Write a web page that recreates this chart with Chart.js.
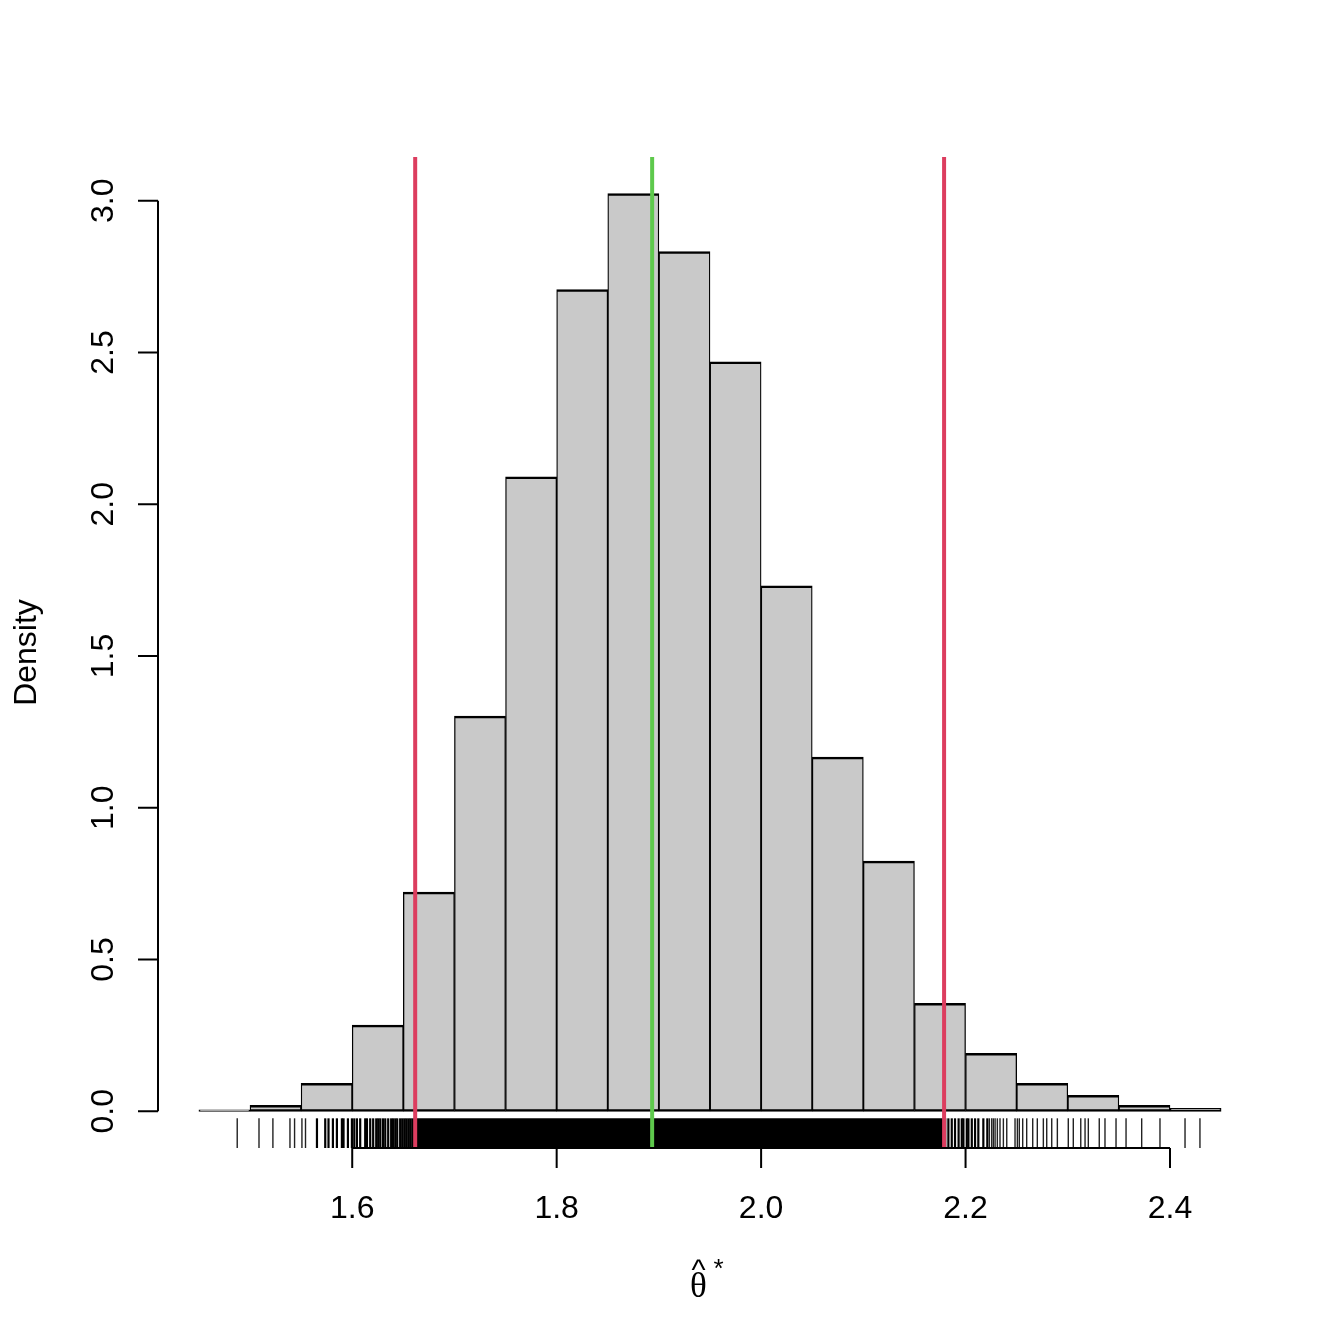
<!DOCTYPE html>
<html>
<head>
<meta charset="utf-8">
<script src="https://cdn.jsdelivr.net/npm/chart.js@4/dist/chart.umd.min.js"></script>
<style>
  html, body { margin: 0; padding: 0; background: #ffffff; }
  #wrap { width: 1344px; height: 1344px; }
</style>
</head>
<body>
<div id="wrap"><canvas id="c" width="1344" height="1344"></canvas></div>
<script>
// ---- data ----
const binEdges = [1.45, 1.50, 1.55, 1.60, 1.65, 1.70, 1.75, 1.80, 1.85, 1.90, 1.95,
                  2.00, 2.05, 2.10, 2.15, 2.20, 2.25, 2.30, 2.35, 2.40, 2.45];
const density = [0.005, 0.020, 0.092, 0.284, 0.722, 1.302, 2.090, 2.707, 3.023, 2.832,
                 2.469, 1.731, 1.167, 0.824, 0.356, 0.191, 0.092, 0.053, 0.020, 0.010];
const ciLower = 1.6616;
const ciUpper = 2.1790;
const estimate = 1.8934;
const rugSparse = [1.4875, 1.5088, 1.5224, 1.5391, 1.5436, 1.5508, 1.5543,
                   2.2233, 2.2256, 2.2272, 2.2289, 2.2311, 2.2337, 2.2370, 2.2403,
                   2.2484, 2.2507, 2.2526, 2.2559, 2.2598, 2.2657, 2.2702, 2.2761,
                   2.2794, 2.2843, 2.2898, 2.3005, 2.3054, 2.3127, 2.3169, 2.3201,
                   2.3308, 2.3364, 2.3472, 2.3570, 2.3723, 2.3902, 2.4147, 2.4293];
const rugDense = [1.5655, 1.5736, 1.5768, 1.5811, 1.5850, 1.5899, 1.5915, 1.5958,
                  1.5997, 1.6020, 1.6046, 1.6078, 1.6127, 1.6144, 1.6176, 1.6205,
                  1.6235, 1.6254, 1.6274, 1.6300, 1.6323, 1.6352, 1.6381, 1.6400,
                  1.6421, 1.6440, 1.6469, 1.6489, 1.6509, 1.6528, 1.6548, 1.6567,
                  1.6587, 1.6606,
                  2.1832, 2.1865, 2.1897, 2.1932, 2.1963, 2.1979, 2.2012, 2.2028,
                  2.2061, 2.2093, 2.2125, 2.2174, 2.2213];
const rugCore = [1.6616, 2.1812];   // solid black stretch of the rug
const xTicks = [1.6, 1.8, 2.0, 2.2, 2.4];
const xTickLabels = ['1.6', '1.8', '2.0', '2.2', '2.4'];
const yTicks = [0, 0.5, 1.0, 1.5, 2.0, 2.5, 3.0];
const yTickLabels = ['0.0', '0.5', '1.0', '1.5', '2.0', '2.5', '3.0'];
const yTitle = 'Density';

// ---- derived ----
const xLo = binEdges[0], xHi = binEdges[binEdges.length - 1];
const yTop = Math.max(...density);
const xMin = xLo - 0.04 * (xHi - xLo), xMax = xHi + 0.04 * (xHi - xLo);
const yMin = -0.04 * yTop, yMax = yTop * 1.04;
const rugY = yMin * 0.6;

const histData = density.map((d, i) => ({ x: (binEdges[i] + binEdges[i + 1]) / 2, y: d }));
const toRug = v => ({ x: v, y: rugY });

const FONT = '"Liberation Sans", Arial, Helvetica, sans-serif';

const rAxes = {
  id: 'rAxes',
  afterDraw(chart) {
    const ctx = chart.ctx, xs = chart.scales.x, ys = chart.scales.y, a = chart.chartArea;
    ctx.save();
    ctx.strokeStyle = '#000'; ctx.fillStyle = '#000'; ctx.lineWidth = 2; ctx.lineCap = 'butt';
    // x axis
    ctx.beginPath();
    ctx.moveTo(xs.getPixelForValue(xTicks[0]), a.bottom);
    ctx.lineTo(xs.getPixelForValue(xTicks[xTicks.length - 1]), a.bottom);
    xTicks.forEach(t => { const p = xs.getPixelForValue(t); ctx.moveTo(p, a.bottom); ctx.lineTo(p, a.bottom + 20); });
    ctx.stroke();
    ctx.font = '32px ' + FONT; ctx.textAlign = 'center'; ctx.textBaseline = 'alphabetic';
    xTicks.forEach((t, i) => ctx.fillText(xTickLabels[i], xs.getPixelForValue(t), a.bottom + 70));
    // y axis
    ctx.beginPath();
    ctx.moveTo(a.left, ys.getPixelForValue(yTicks[0]));
    ctx.lineTo(a.left, ys.getPixelForValue(yTicks[yTicks.length - 1]));
    yTicks.forEach(t => { const p = ys.getPixelForValue(t); ctx.moveTo(a.left, p); ctx.lineTo(a.left - 20, p); });
    ctx.stroke();
    yTicks.forEach((t, i) => {
      ctx.save();
      ctx.translate(a.left - 45.5, ys.getPixelForValue(t));
      ctx.rotate(-Math.PI / 2);
      ctx.fillText(yTickLabels[i], 0, 0);
      ctx.restore();
    });
    // y title
    ctx.save();
    ctx.translate(36, (a.top + a.bottom) / 2);
    ctx.rotate(-Math.PI / 2);
    ctx.fillText(yTitle, 0, 0);
    ctx.restore();
    // x title: theta hat star
    const cx = (a.left + a.right) / 2;
    ctx.font = '35px "Liberation Serif", "DejaVu Serif", serif';
    ctx.fillText('θ', cx - 11.5, 1297);
    ctx.font = '30px ' + FONT;
    ctx.fillText('^', cx - 11.5, 1280);
    ctx.font = '26px ' + FONT;
    ctx.fillText('*', cx + 8.5, 1277);
    ctx.restore();
  }
};

new Chart(document.getElementById('c'), {
  type: 'bar',
  data: {
    datasets: [
      {
        type: 'line', label: 'lower', order: 0,
        data: [{ x: ciLower, y: yMin }, { x: ciLower, y: yMax }],
        borderColor: '#dc3d5f', borderWidth: 4, pointRadius: 0, fill: false, borderCapStyle: 'butt'
      },
      {
        type: 'line', label: 'upper', order: 0,
        data: [{ x: ciUpper, y: yMin }, { x: ciUpper, y: yMax }],
        borderColor: '#dc3d5f', borderWidth: 4, pointRadius: 0, fill: false, borderCapStyle: 'butt'
      },
      {
        type: 'line', label: 'estimate', order: 0,
        data: [{ x: estimate, y: yMin }, { x: estimate, y: yMax }],
        borderColor: '#5ec94c', borderWidth: 4, pointRadius: 0, fill: false, borderCapStyle: 'butt'
      },
      {
        type: 'line', label: 'rug core', order: 1,
        data: rugCore.map(toRug),
        borderColor: '#000', borderWidth: 30, pointRadius: 0, fill: false, borderCapStyle: 'butt'
      },
      {
        type: 'line', label: 'rug dense', order: 1, showLine: false,
        data: rugDense.map(toRug),
        pointStyle: 'line', pointRotation: 90, pointRadius: 15,
        pointBorderColor: '#000', pointBorderWidth: 2.2, pointBackgroundColor: '#000'
      },
      {
        type: 'line', label: 'rug', order: 1, showLine: false,
        data: rugSparse.map(toRug),
        pointStyle: 'line', pointRotation: 90, pointRadius: 15,
        pointBorderColor: '#222', pointBorderWidth: 1.4, pointBackgroundColor: '#222'
      },
      {
        type: 'bar', label: 'density', order: 2,
        data: histData,
        backgroundColor: '#c9c9c9', borderColor: '#000',
        borderWidth: { top: 2.5, bottom: 2.5, left: 1.3, right: 1.3 }, borderSkipped: false,
        barPercentage: 1.0, categoryPercentage: 1.0
      }
    ]
  },
  options: {
    responsive: false, animation: false, devicePixelRatio: 1, events: [],
    layout: { padding: { left: 0, top: 157, right: 82, bottom: 0 } },
    plugins: { legend: { display: false }, tooltip: { enabled: false } },
    scales: {
      x: {
        type: 'linear', min: xMin, max: xMax, offset: false,
        grid: { display: false }, border: { display: false },
        ticks: { display: false, stepSize: 0.2 },
        afterFit(s) { s.height = 196; }
      },
      y: {
        type: 'linear', min: yMin, max: yMax,
        grid: { display: false }, border: { display: false },
        ticks: { display: false },
        afterFit(s) { s.width = 158; }
      }
    }
  },
  plugins: [rAxes]
});
</script>
</body>
</html>
